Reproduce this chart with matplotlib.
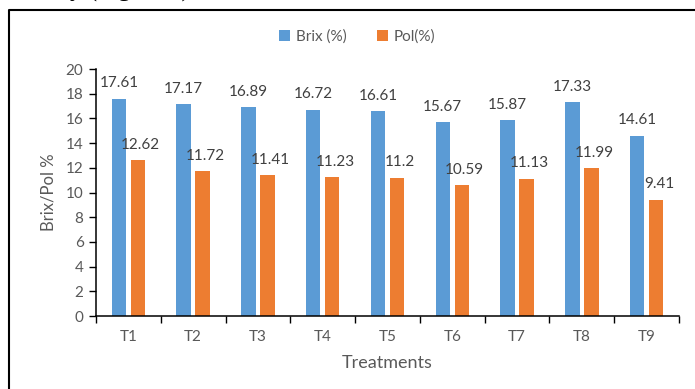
import numpy as np
import matplotlib
matplotlib.use("Agg")
import matplotlib.pyplot as plt
from matplotlib.lines import Line2D

# Brix and Pol readings per treatment
treatments = ["T1", "T2", "T3", "T4", "T5", "T6", "T7", "T8", "T9"]
brix = [17.61, 17.17, 16.89, 16.72, 16.61, 15.67, 15.87, 17.33, 14.61]
pol = [12.62, 11.72, 11.41, 11.23, 11.2, 10.59, 11.13, 11.99, 9.41]

plt.rcParams["font.family"] = ["Lato", "DejaVu Sans"]
grey = "#595959"
blue = "#5B9BD5"
orange = "#ED7D31"

fig = plt.figure(figsize=(6.95, 3.89), dpi=100)
ax = fig.add_axes([96 / 695, 1 - 316 / 389, (679 - 96) / 695, (316 - 69) / 389])

x = np.arange(len(treatments))
w = 0.224
off = 0.147
b1 = ax.bar(x - off, brix, w, color=blue, label="Brix (%)")
b2 = ax.bar(x + off, pol, w, color=orange, label="Pol(%)")

for xi, v in zip(x - off, brix):
    ax.annotate(f"{v:g}", (xi, v), xytext=(0, 6), textcoords="offset points",
                ha="center", va="bottom", fontsize=11, color="#404040")
for xi, v in zip(x + off, pol):
    ax.annotate(f"{v:g}", (xi, v), xytext=(2, 6), textcoords="offset points",
                ha="center", va="bottom", fontsize=11, color="#404040")

ax.set_xlim(-0.5, len(treatments) - 0.5)
ax.set_ylim(0, 20)
ax.set_yticks(range(0, 21, 2))
ax.set_xticks(x)
ax.set_xticklabels(treatments)
ax.set_xticks(np.arange(-0.5, len(treatments)), minor=True)
ax.tick_params(axis="x", which="major", length=0, pad=10, labelsize=11, labelcolor=grey)
ax.tick_params(axis="x", which="minor", length=5, width=1, color="black", direction="out")
ax.tick_params(axis="y", length=5, width=1, color="black", labelsize=11, labelcolor=grey, pad=4)

for s in ["top", "right"]:
    ax.spines[s].set_visible(False)
for s in ["left", "bottom"]:
    ax.spines[s].set_color("black")
    ax.spines[s].set_linewidth(1.1)

ax.set_xlabel("Treatments", fontsize=13, color=grey, labelpad=8)
ax.set_ylabel("Brix/Pol %", fontsize=12, color=grey, labelpad=7)

fig.legend(handles=[b1, b2], loc="center", bbox_to_anchor=(0.514, 1 - 37 / 389),
           ncol=2, frameon=False, fontsize=11, labelcolor=grey,
           handlelength=0.7, handleheight=0.7, handletextpad=0.4, columnspacing=2.0)

# chart frame (left and top edges)
fy = 1 - 9.5 / 389
fx = 8.5 / 695
fig.add_artist(Line2D([fx, fx, 1], [0, fy, fy], transform=fig.transFigure,
                      color="black", lw=1.5))

# bottom of the caption line above the chart
fig.text(70 / 695, 1 + 3 / 389, "y (Figure 3)", fontsize=18,
         family=["Liberation Serif"], va="baseline", ha="left", color="black")

fig.savefig("out.png", dpi=100)
